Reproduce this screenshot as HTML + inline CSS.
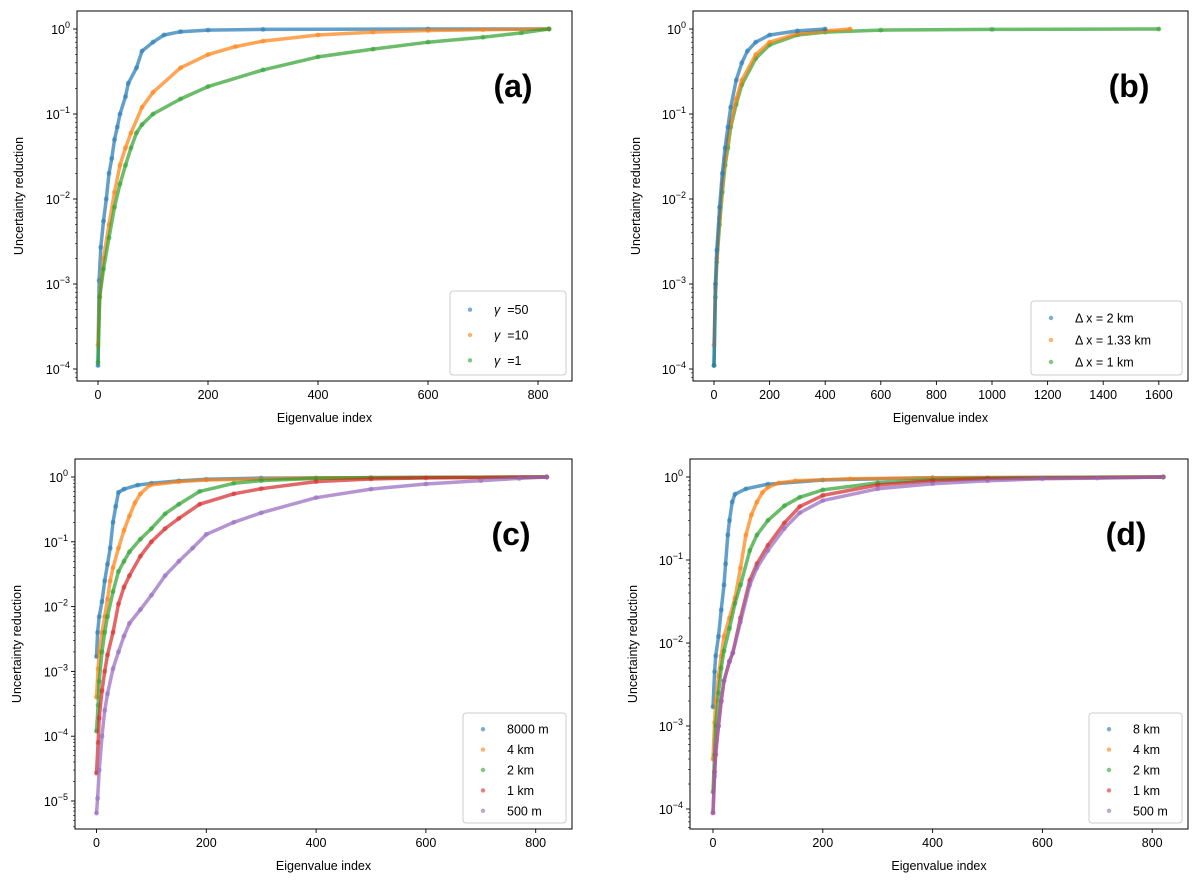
<!DOCTYPE html>
<html><head><meta charset="utf-8"><style>
body{margin:0;background:#fff;width:1200px;height:883px;overflow:hidden}
svg{font-family:"Liberation Sans","DejaVu Sans",sans-serif}
</style></head><body>
<svg id="fig" width="1200" height="883" viewBox="0 0 1200 883" xmlns="http://www.w3.org/2000/svg"></svg>
<script>
// ---- Panel (a) data ----
const aBlueX=[0,2,5,10,15,20,25,30,35,40,50,55,70,80,100,120,150,200,300,600,820];
const aBlueY=[1.1e-4,1.1e-3,2.7e-3,5.5e-3,1e-2,2e-2,3e-2,5e-2,7e-2,0.1,0.16,0.23,0.35,0.55,0.7,0.85,0.93,0.97,0.99,1,1];
const aOrangeX=[0,3,10,20,30,40,50,60,80,100,150,200,250,300,400,500,600,700,820];
const aOrangeY=[1.9e-4,7e-4,2e-3,5e-3,1.2e-2,2.5e-2,4e-2,6e-2,0.12,0.18,0.35,0.5,0.62,0.72,0.85,0.92,0.96,0.98,1];
const aGreenX=[0,3,10,20,30,40,50,60,70,80,100,150,200,300,400,500,600,700,770,820];
const aGreenY=[1.2e-4,7e-4,1.5e-3,3.5e-3,8e-3,1.5e-2,2.5e-2,4e-2,6e-2,7.5e-2,0.1,0.15,0.21,0.33,0.47,0.58,0.7,0.8,0.9,1];
// ---- Panel (b) data ----
const bBlueX=[0,5,10,20,30,40,50,60,80,100,120,150,200,300,400];
const bBlueY=[1.1e-4,1e-3,2.5e-3,8e-3,2e-2,4e-2,7e-2,0.12,0.25,0.4,0.55,0.7,0.85,0.95,1];
const bOrangeX=[0,5,10,20,30,40,50,60,80,100,150,200,300,400,490];
const bOrangeY=[1.9e-4,9e-4,2e-3,6e-3,1.5e-2,3e-2,5e-2,8e-2,0.15,0.25,0.5,0.7,0.88,0.95,1];
const bGreenX=[0,5,10,20,30,40,50,60,80,100,150,200,300,400,600,1000,1600];
const bGreenY=[1.1e-4,7e-4,1.8e-3,5e-3,1.2e-2,2.5e-2,4e-2,7e-2,0.13,0.22,0.45,0.65,0.85,0.92,0.97,0.99,1];
// ---- Panel (c) data ----
const cBlueX=[0,2,5,10,15,20,25,30,35,40,50,75,100,150,200,300,820];
const cBlueY=[1.7e-3,4e-3,7e-3,1.2e-2,2.5e-2,4.5e-2,8e-2,0.2,0.35,0.58,0.65,0.75,0.8,0.87,0.92,0.96,1];
const cOrangeX=[0,3,5,10,15,20,25,30,40,50,60,70,80,97,150,200,400,820];
const cOrangeY=[4e-4,1.1e-3,2e-3,4e-3,7e-3,1.3e-2,2.5e-2,4e-2,8e-2,0.15,0.25,0.4,0.55,0.75,0.85,0.9,0.97,1];
const cGreenX=[0,3,5,10,15,20,30,40,50,60,80,100,125,150,188,250,300,400,500,820];
const cGreenY=[1.2e-4,3e-4,7e-4,2e-3,4e-3,7e-3,1.7e-2,3.5e-2,5e-2,7e-2,0.11,0.16,0.27,0.38,0.6,0.8,0.88,0.95,0.98,1];
const cRedX=[0,3,5,10,15,20,30,40,50,60,80,100,125,150,188,250,300,400,500,600,820];
const cRedY=[2.7e-5,8e-5,1.9e-4,5e-4,1e-3,1.8e-3,4e-3,1.1e-2,2e-2,3e-2,6e-2,0.1,0.16,0.23,0.38,0.55,0.66,0.85,0.93,0.97,1];
const cPurpleX=[0,2,5,10,15,20,30,40,50,60,80,100,125,150,175,200,250,300,400,500,600,700,770,820];
const cPurpleY=[6.5e-6,1.1e-5,3e-5,1e-4,2.5e-4,4.5e-4,1.1e-3,2e-3,3.5e-3,5.5e-3,9e-3,1.5e-2,3e-2,5e-2,8e-2,0.13,0.2,0.28,0.48,0.65,0.78,0.88,0.95,1];
// ---- Panel (d) data ----
const dBlueX=[0,3,5,10,15,20,23,27,30,35,40,60,100,200,400,820];
const dBlueY=[1.7e-3,4.5e-3,7e-3,1.2e-2,2.5e-2,5e-2,0.09,0.2,0.3,0.5,0.62,0.72,0.82,0.92,0.98,1];
const dOrangeX=[0,3,5,10,15,20,30,40,50,60,70,80,90,100,120,150,250,400,820];
const dOrangeY=[4e-4,1.1e-3,2e-3,4e-3,7e-3,1.2e-2,2e-2,3.5e-2,8e-2,0.2,0.35,0.5,0.65,0.75,0.85,0.9,0.95,0.98,1];
const dGreenX=[0,3,5,10,15,20,30,40,50,67,80,100,130,158,200,300,400,500,820];
const dGreenY=[1.6e-4,4.5e-4,1e-3,2.5e-3,5e-3,8e-3,1.5e-2,3e-2,5e-2,0.13,0.2,0.3,0.45,0.57,0.7,0.85,0.93,0.97,1];
const dRedX=[0,3,5,10,15,20,30,36,50,67,80,100,130,158,200,300,400,500,820];
const dRedY=[9e-5,2.8e-4,4.5e-4,1e-3,2e-3,3.5e-3,6e-3,7.6e-3,2e-2,5.7e-2,0.09,0.15,0.28,0.44,0.6,0.8,0.9,0.95,1];
const dPurpleX=[0,3,5,10,15,20,30,36,50,67,80,100,130,158,200,300,400,500,600,700,820];
const dPurpleY=[9e-5,2.5e-4,5.5e-4,1e-3,2e-3,3.5e-3,6e-3,7.6e-3,1.8e-2,5e-2,0.08,0.13,0.24,0.37,0.52,0.72,0.83,0.9,0.95,0.97,1];

const NS="http://www.w3.org/2000/svg";
const svg=document.getElementById('fig');
const C={blue:'#1f77b4',orange:'#ff7f0e',green:'#2ca02c',red:'#d62728',purple:'#9467bd'};
function mk(tag,attrs,parent){const e=document.createElementNS(NS,tag);for(const k in attrs)e.setAttribute(k,attrs[k]);(parent||svg).appendChild(e);return e;}

const panels=[
 {id:'a',L:77,R:572,T:11,B:381,x0:98,sx:0.55,y0:29,dec:85,emin:-4,xt:[0,200,400,600,800],lab:'(a)',ylx:19,
  series:[[aBlueX,aBlueY,'blue'],[aOrangeX,aOrangeY,'orange'],[aGreenX,aGreenY,'green']],
  legend:{x:450,y:291,w:116,h:84,items:[['γ','  =50','blue'],['γ','  =10','orange'],['γ','  =1','green']]}},
 {id:'b',L:693,R:1188,T:11,B:381,x0:714,sx:0.278,y0:29,dec:85,emin:-4,xt:[0,200,400,600,800,1000,1200,1400,1600],lab:'(b)',ylx:636,
  series:[[bGreenX,bGreenY,'green'],[bOrangeX,bOrangeY,'orange'],[bBlueX,bBlueY,'blue']],
  legend:{x:1031,y:301,w:151,h:74,items:[['','Δ x = 2 km','blue'],['','Δ x = 1.33 km','orange'],['','Δ x = 1 km','green']]}},
 {id:'c',L:75,R:572,T:459,B:829,x0:96.5,sx:0.549,y0:477,dec:64.8,emin:-5,xt:[0,200,400,600,800],lab:'(c)',ylx:17,
  series:[[cBlueX,cBlueY,'blue'],[cOrangeX,cOrangeY,'orange'],[cGreenX,cGreenY,'green'],[cRedX,cRedY,'red'],[cPurpleX,cPurpleY,'purple']],
  legend:{x:463,y:713,w:103,h:110,items:[['','8000 m','blue'],['','4 km','orange'],['','2 km','green'],['','1 km','red'],['','500 m','purple']]}},
 {id:'d',L:690,R:1188,T:459,B:829,x0:713,sx:0.549,y0:477,dec:83,emin:-4,xt:[0,200,400,600,800],lab:'(d)',ylx:633,
  series:[[dBlueX,dBlueY,'blue'],[dOrangeX,dOrangeY,'orange'],[dGreenX,dGreenY,'green'],[dRedX,dRedY,'red'],[dPurpleX,dPurpleY,'purple']],
  legend:{x:1089,y:713,w:93,h:110,items:[['','8 km','blue'],['','4 km','orange'],['','2 km','green'],['','1 km','red'],['','500 m','purple']]}}
];

panels.forEach(p=>{
  const g=mk('g',{});
  
  
  const xs=v=>p.x0+v*p.sx;
  const ys=v=>p.y0-Math.log10(v)*p.dec;
  p.series.forEach(s=>{
    const [X,Y,col]=s;
    const sg=mk('g',{},g);
    
    
    const pts=X.map((x,i)=>xs(x).toFixed(1)+','+ys(Y[i]).toFixed(1)).join(' ');
    const pl=mk('polyline',{points:pts,fill:'none',stroke:C[col],'stroke-width':3.5,'stroke-opacity':0.7,'stroke-linejoin':'round','stroke-linecap':'round'},sg);
    
    
    X.forEach((x,i)=>{
      const c=mk('circle',{cx:xs(x),cy:ys(Y[i]),r:2.5,fill:C[col],'fill-opacity':0.5},sg);
      
      
    });
  });
  const fr=mk('rect',{x:p.L,y:p.T,width:p.R-p.L,height:p.B-p.T,fill:'none',stroke:'#000','stroke-width':1},g);
  
  
  p.xt.forEach(v=>{
    const x=xs(v);
    mk('line',{x1:x,x2:x,y1:p.B,y2:p.B+4,stroke:'#000','stroke-width':0.9},g);
    const t=mk('text',{x:x,y:p.B+18,'font-size':12.5,'text-anchor':'middle',fill:'#000'},g);
    t.textContent=v;
    
    
  });
  for(let e=0;e>=p.emin;e--){
    const y=ys(Math.pow(10,e));
    mk('line',{x1:p.L-4,x2:p.L,y1:y,y2:y,stroke:'#000','stroke-width':0.9},g);
    const t=mk('text',{x:p.L-7,y:y+5,'font-size':12.5,'text-anchor':'end',fill:'#000'},g);
    
    
    const base=mk('tspan',{},t);base.textContent='10';
    const sup=mk('tspan',{dy:-6,'font-size':9},t);sup.textContent=e===0?'0':'−'+(-e);
  }
  for(let e=1;e>=p.emin-1;e--){
    for(let m=2;m<=9;m++){
      const y=ys(m*Math.pow(10,e-1));
      if(y<p.T||y>p.B)continue;
      mk('line',{x1:p.L-2,x2:p.L,y1:y,y2:y,stroke:'#000','stroke-width':0.6},g);
    }
  }
  const xl=mk('text',{x:(p.L+p.R)/2,y:p.B+41,'font-size':12.5,'text-anchor':'middle'},g);
  xl.textContent='Eigenvalue index';
  
  
  const yl=mk('text',{x:p.ylx+4,y:(p.T+p.B)/2,'font-size':12.5,'text-anchor':'middle',transform:`rotate(-90 ${p.ylx+4} ${(p.T+p.B)/2})`},g);
  yl.textContent='Uncertainty reduction';
  
  
  const pl=mk('text',{x:p.L+436,y:p.T+86,'font-size':32,'font-weight':'bold','text-anchor':'middle'},g);
  pl.textContent=p.lab;
  
  
  const L=p.legend;
  const lg=mk('g',{},g);
  
  
  mk('rect',{x:L.x,y:L.y,width:L.w,height:L.h,rx:3,fill:'#fff','fill-opacity':0.85,stroke:'#ccc'},lg);
  const step=(L.h-8)/L.items.length;
  L.items.forEach((it,i)=>{
    const cy=L.y+6+step*(i+0.5);
    const ent=mk('g',{},lg);
    
    
    mk('circle',{cx:L.x+20,cy:cy,r:2.2,fill:C[it[2]],'fill-opacity':0.6},ent);
    const t=mk('text',{x:L.x+44,y:cy+4.5,'font-size':12.5},ent);
    if(it[0]){const s=mk('tspan',{'font-style':'italic'},t);s.textContent=it[0];const r=mk('tspan',{},t);r.textContent=' \u00a0=' + it[1].replace(/\s*=/,'');}
    else t.textContent=it[1];
  });
});
</script>
</body></html>
